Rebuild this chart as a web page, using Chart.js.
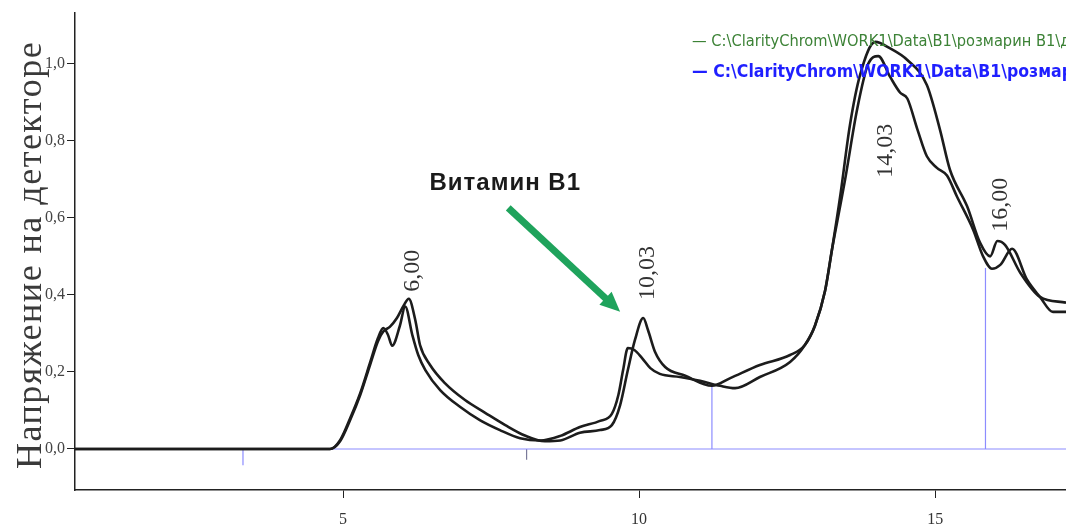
<!DOCTYPE html>
<html>
<head>
<meta charset="utf-8">
<script src="https://cdn.jsdelivr.net/npm/chart.js@4"></script>
<style>
  html, body { margin: 0; padding: 0; background: #fff; }
  #wrap { width: 1066px; height: 529px; position: relative; }
</style>
</head>
<body>
<div id="wrap"><canvas id="chrom" width="1066" height="529"></canvas></div>
<script>
/* global Chart */

// retention time (min) / detector signal, curve A (earlier eluting)
const timesA = [0.47, 4.78, 4.95, 5.12, 5.29, 5.46, 5.59, 5.68, 5.76, 5.83, 5.96, 6.05, 6.17, 6.27, 6.39, 6.64, 6.98, 7.31, 7.65, 7.99, 8.33, 8.67,
  9.0, 9.34, 9.54, 9.65, 9.73, 9.81, 9.92, 10.05, 10.19, 10.35, 10.69, 11.03, 11.37, 11.62, 12.04, 12.55, 12.8, 12.97, 13.14, 13.26, 13.4,
  13.56, 13.73, 13.99, 14.24, 14.53, 14.86, 15.08, 15.25, 15.54, 15.76, 15.93, 16.05, 16.18, 16.44, 16.77, 17.21];
const valuesA = [0, 0, 0.023, 0.08, 0.145, 0.226, 0.288, 0.314, 0.296, 0.268, 0.32, 0.37, 0.296, 0.244, 0.205, 0.153, 0.109, 0.075, 0.049, 0.028, 0.022, 0.034,
  0.057, 0.073, 0.091, 0.14, 0.205, 0.262, 0.257, 0.236, 0.21, 0.195, 0.187, 0.177, 0.164, 0.158, 0.187, 0.226, 0.27, 0.32, 0.41, 0.52, 0.66,
  0.84, 0.97, 1.057, 1.04, 1.01, 0.945, 0.83, 0.725, 0.63, 0.535, 0.5, 0.54, 0.53, 0.457, 0.395, 0.38];

// curve B (later eluting)
const timesB = [0.47, 4.78, 4.95, 5.12, 5.29, 5.46, 5.59, 5.68, 5.79, 5.91, 6.03, 6.11, 6.22, 6.3, 6.47, 6.72, 7.06, 7.4, 7.74, 8.07, 8.41, 8.67,
  9.0, 9.34, 9.54, 9.68, 9.81, 9.93, 10.07, 10.15, 10.27, 10.44, 10.78, 11.23, 11.54, 12.04, 12.55, 12.8, 12.97, 13.14, 13.26, 13.4,
  13.48, 13.68, 13.87, 14.04, 14.24, 14.41, 14.53, 14.7, 14.86, 15.03, 15.2, 15.37, 15.64, 15.81, 15.96, 16.1, 16.3, 16.55, 16.77, 16.99, 17.21];
const valuesB = [0, 0, 0.02, 0.075, 0.14, 0.22, 0.28, 0.305, 0.317, 0.34, 0.374, 0.39, 0.335, 0.27, 0.218, 0.171, 0.127, 0.094, 0.062, 0.035, 0.02, 0.022,
  0.042, 0.049, 0.062, 0.114, 0.205, 0.283, 0.34, 0.309, 0.252, 0.213, 0.19, 0.164, 0.184, 0.218, 0.244, 0.27, 0.32, 0.41, 0.52, 0.634,
  0.7, 0.88, 1.0, 1.02, 0.966, 0.925, 0.91, 0.83, 0.76, 0.73, 0.71, 0.655, 0.57, 0.5, 0.468, 0.478, 0.52, 0.44, 0.395, 0.356, 0.356];

// integration markers (time, from, to)
const markerTimes = [3.31, 8.1, 11.23, 15.85];
const markerFrom = [0, 0, 0, 0];
const markerTo = [-0.042, -0.028, 0.164, 0.47];
const baselineTimes = [0.47, 17.21];
const baselineValues = [0, 0];

const xTicks = [5, 10, 15];
const yTicks = [0, 0.2, 0.4, 0.6, 0.8, 1.0];

const peakNames = ["6,00", "10,03", "14,03", "16,00"];
const peakTimes = [6.17, 10.15, 14.16, 16.1];
const peakLabelBase = [0.408, 0.387, 0.704, 0.564];

const legendLines = [
  "— C:\\ClarityChrom\\WORK1\\Data\\B1\\розмарин B1\\дист",
  "— C:\\ClarityChrom\\WORK1\\Data\\B1\\розмарин"
];

const calloutText = "Витамин B1";
const calloutAt = [7.74, 0.69];
const arrowFrom = [7.79, 0.626];
const arrowTo = [9.68, 0.356];

function pairs(xs, ys) {
  return xs.map((v, i) => ({ x: v, y: ys[i] }));
}

function fmt(v) {
  return v.toFixed(1).replace(".", ",");
}

const serif = "'Liberation Serif', 'Times New Roman', serif";

const annotate = {
  id: "annotate",
  afterDraw(chart) {
    const { ctx } = chart;
    const x = chart.scales.x;
    const y = chart.scales.y;
    ctx.save();

    // axis title, overlapping the tick labels like the original
    ctx.save();
    ctx.translate(32, 255);
    ctx.rotate(-Math.PI / 2);
    ctx.font = "36px " + serif;
    ctx.letterSpacing = "1.5px";
    ctx.fillStyle = "#3a3a3a";
    ctx.textAlign = "center";
    ctx.textBaseline = "middle";
    ctx.fillText("Напряжение на детекторе", 0, 0);
    ctx.restore();

    // peak retention labels
    ctx.font = "24px " + serif;
    ctx.fillStyle = "#333";
    peakNames.forEach((name, i) => {
      ctx.save();
      ctx.translate(x.getPixelForValue(peakTimes[i]), y.getPixelForValue(peakLabelBase[i]));
      ctx.rotate(-Math.PI / 2);
      ctx.textAlign = "left";
      ctx.textBaseline = "middle";
      ctx.fillText(name, 0, 0);
      ctx.restore();
    });

    // callout
    ctx.save();
    ctx.font = "bold 24px 'Liberation Sans', Arial, sans-serif";
    ctx.letterSpacing = "1px";
    ctx.fillStyle = "#1a1a1a";
    ctx.textAlign = "center";
    ctx.textBaseline = "middle";
    ctx.fillText(calloutText, x.getPixelForValue(calloutAt[0]), y.getPixelForValue(calloutAt[1]));
    ctx.restore();

    // green arrow
    const x0 = x.getPixelForValue(arrowFrom[0]), y0 = y.getPixelForValue(arrowFrom[1]);
    const x1 = x.getPixelForValue(arrowTo[0]), y1 = y.getPixelForValue(arrowTo[1]);
    const ang = Math.atan2(y1 - y0, x1 - x0);
    const head = 20;
    ctx.strokeStyle = "#1fa35c";
    ctx.fillStyle = "#1fa35c";
    ctx.lineWidth = 7;
    ctx.beginPath();
    ctx.moveTo(x0, y0);
    ctx.lineTo(x1 - Math.cos(ang) * head * 0.8, y1 - Math.sin(ang) * head * 0.8);
    ctx.stroke();
    ctx.beginPath();
    ctx.moveTo(x1, y1);
    ctx.lineTo(x1 - head * Math.cos(ang) + 9 * Math.sin(ang), y1 - head * Math.sin(ang) - 9 * Math.cos(ang));
    ctx.lineTo(x1 - head * Math.cos(ang) - 9 * Math.sin(ang), y1 - head * Math.sin(ang) + 9 * Math.cos(ang));
    ctx.closePath();
    ctx.fill();

    // file legend, cut off at the right edge
    ctx.textAlign = "left";
    ctx.textBaseline = "middle";
    ctx.font = "16.3px 'DejaVu Sans Condensed', 'DejaVu Sans', sans-serif";
    ctx.fillStyle = "#3c8236";
    ctx.fillText(legendLines[0], 692, 42);
    ctx.font = "bold 17.5px 'DejaVu Sans Condensed', 'DejaVu Sans', sans-serif";
    ctx.fillStyle = "#1f1fff";
    ctx.fillText(legendLines[1], 692, 72);

    ctx.restore();
  }
};

const curveStyle = {
  borderColor: "#1c1c1c",
  borderWidth: 2.6,
  pointRadius: 0,
  fill: false,
  cubicInterpolationMode: "monotone"
};

const datasets = [
  Object.assign({ label: "A", data: pairs(timesA, valuesA) }, curveStyle),
  Object.assign({ label: "B", data: pairs(timesB, valuesB) }, curveStyle),
  {
    label: "baseline",
    data: pairs(baselineTimes, baselineValues),
    borderColor: "#8c8cff",
    borderWidth: 1.2,
    pointRadius: 0
  }
];
markerTimes.forEach((t, i) => {
  datasets.push({
    label: "marker" + i,
    data: [{ x: t, y: markerFrom[i] }, { x: t, y: markerTo[i] }],
    borderColor: i === 1 ? "#7a7a9a" : "#8c8cff",
    borderWidth: 1.2,
    pointRadius: 0
  });
});

new Chart(document.getElementById("chrom"), {
  type: "line",
  data: { datasets },
  options: {
    responsive: false,
    animation: false,
    devicePixelRatio: 1,
    layout: { padding: { top: 13, right: 0, left: 0, bottom: 0 } },
    plugins: { legend: { display: false }, tooltip: { enabled: false } },
    scales: {
      x: {
        type: "linear",
        min: 0.473,
        max: 17.21,
        afterBuildTicks: s => { s.ticks = xTicks.map(v => ({ value: v })); },
        afterFit: s => { s.height = 39; },
        grid: { drawOnChartArea: false, drawTicks: true, tickLength: 8, color: "#222", lineWidth: 1 },
        border: { display: true, color: "#222", width: 1.5 },
        ticks: { color: "#333", font: { family: serif, size: 16 }, padding: 12, maxRotation: 0 }
      },
      y: {
        type: "linear",
        min: -0.1065,
        max: 1.132,
        afterBuildTicks: s => { s.ticks = yTicks.map(v => ({ value: v })); },
        afterFit: s => { s.width = 75; },
        grid: { drawOnChartArea: false, drawTicks: true, tickLength: 8, color: "#222", lineWidth: 1 },
        border: { display: true, color: "#222", width: 1.5 },
        ticks: { color: "#444", font: { family: serif, size: 16 }, padding: 2, callback: v => fmt(v) }
      }
    }
  },
  plugins: [annotate]
});
</script>
</body>
</html>
